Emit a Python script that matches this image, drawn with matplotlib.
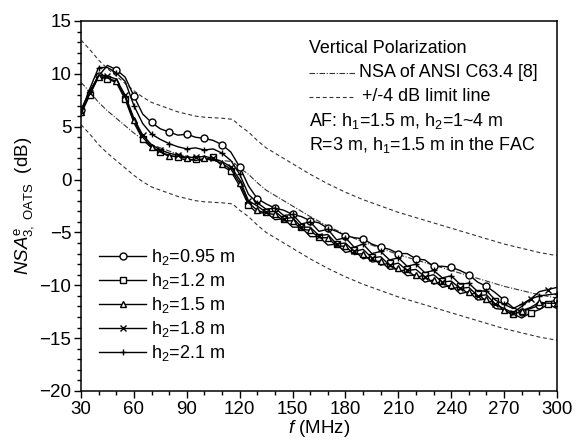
import matplotlib
matplotlib.use('Agg')
import matplotlib.pyplot as plt
from matplotlib.lines import Line2D
from matplotlib.ticker import MultipleLocator

plt.rcParams['font.family'] = ['Liberation Sans', 'DejaVu Sans']
plt.rcParams['mathtext.fontset'] = 'custom'
plt.rcParams['mathtext.rm'] = 'Liberation Sans'
plt.rcParams['mathtext.it'] = 'Liberation Sans:italic'

# measured frequencies (MHz)
freq = list(range(30, 301, 5))

# NSA^e_3,OATS (dB) per receive antenna height h2
h095 = [6.6, 8.4, 9.8, 10.8, 10.4, 9.7, 7.9, 6.2, 5.4, 4.8, 4.5, 4.2, 4.3, 4.0,
        3.9, 3.7, 3.3, 2.6, 1.2,
        -0.6, -1.8, -2.3, -2.7, -2.9, -3.3, -3.5, -3.9, -4.1, -4.6, -4.9, -5.3,
        -5.5, -5.6, -6.1, -6.4, -6.6, -7.0, -7.0, -7.5, -7.6, -8.2, -8.2, -8.3,
        -8.6, -9.0, -9.7, -10.1, -10.7, -11.4, -12.1, -12.5, -12.2, -11.9,
        -11.6, -11.4]
h12 = [6.2, 8.0, 9.8, 9.5, 9.2, 7.6, 5.4, 3.8, 3.0, 2.6, 2.3, 2.1, 1.8, 1.9,
       1.8, 2.1, 1.3, 0.8, -0.6,
       -2.4, -3.2, -3.1, -3.8, -3.7, -4.5, -4.5, -5.4, -5.4, -6.2, -6.1, -6.9,
       -6.7, -7.5, -7.3, -8.1, -7.9, -8.7, -8.5, -9.3, -9.0, -9.9, -9.6, -10.4,
       -10.1, -10.9, -10.7, -11.6, -11.5, -12.5, -12.7, -13.1, -12.6, -12.3,
       -11.8, -12.2]
h15 = [6.4, 8.1, 9.7, 9.6, 9.3, 7.8, 5.6, 4.0, 3.1, 2.6, 2.2, 2.2, 2.0, 1.8,
       2.0, 1.9, 1.5, 1.0, -0.3,
       -2.2, -2.9, -3.2, -3.3, -3.9, -3.9, -4.7, -4.8, -5.5, -5.5, -6.3, -6.3,
       -7.1, -7.0, -7.8, -7.7, -8.5, -8.4, -9.1, -9.0, -9.7, -9.5, -10.2, -10.0,
       -10.8, -10.6, -11.4, -11.3, -12.2, -12.3, -12.8, -12.4, -12.1, -11.6,
       -11.7, -11.7]
h18 = [6.5, 8.2, 9.9, 9.8, 9.5, 8.0, 5.8, 4.2, 3.3, 2.8, 2.5, 2.3, 2.1, 2.1,
       2.2, 2.0, 1.7, 1.2, 0.0,
       -2.0, -2.5, -3.1, -3.0, -3.7, -3.6, -4.5, -4.5, -5.3, -5.2, -6.1, -6.0,
       -6.8, -6.6, -7.4, -7.3, -8.1, -7.9, -8.6, -8.5, -9.2, -9.0, -9.7, -9.6,
       -10.3, -10.2, -11.0, -10.9, -11.8, -12.2, -12.6, -12.0, -11.3, -10.6,
       -10.4, -10.2]
h21 = [6.3, 8.6, 10.6, 10.6, 10.1, 9.3, 7.0, 5.3, 4.3, 3.8, 3.4, 3.1, 2.9, 3.0,
       2.8, 2.9, 2.5, 1.8, 0.5,
       -1.4, -2.2, -2.8, -2.7, -3.4, -3.3, -4.2, -4.0, -4.9, -4.7, -5.7, -5.5,
       -6.4, -6.1, -7.0, -6.8, -7.6, -7.4, -8.2, -8.0, -8.8, -8.6, -9.3, -9.1,
       -9.9, -9.8, -10.6, -10.5, -11.4, -11.8, -12.2, -11.8, -11.3, -11.0,
       -10.9, -10.8]

# NSA of ANSI C63.4 and the +/-4 dB acceptance window
nsa_freq = [30, 35, 40, 45, 50, 55, 60, 65, 70, 75, 80, 85, 90, 95, 100, 105,
            110, 116, 120, 125, 130, 135, 140, 145, 150, 160, 170, 180, 190,
            200, 210, 220, 230, 240, 250, 260, 270, 280, 290, 300]
nsa = [9.2, 8.3, 7.3, 6.5, 5.8, 5.1, 4.4, 3.8, 3.3, 3.0, 2.7, 2.4, 2.2, 2.0,
       1.9, 1.85, 1.8, 1.7, 1.1, 0.5, -0.3, -1.0, -1.5, -2.0, -2.5, -3.5, -4.4,
       -5.2, -5.9, -6.5, -7.1, -7.6, -8.1, -8.6, -9.1, -9.6, -10.1, -10.5,
       -10.9, -11.2]
limit_db = 4.0

series = [
    ('h$_2$=0.95 m', h095, 'o'),
    ('h$_2$=1.2 m', h12, 's'),
    ('h$_2$=1.5 m', h15, '^'),
    ('h$_2$=1.8 m', h18, 'x'),
    ('h$_2$=2.1 m', h21, '+'),
]

fig = plt.figure(figsize=(5.76, 4.43), dpi=100)
ax = fig.add_axes([0.1406, 0.1174, 0.8264, 0.8352])

dashdot = (0, (5, 1.5, 1, 1.5))
dashed = (0, (3.5, 2.5))
ax.plot(nsa_freq, nsa, color='#333333', lw=0.8, ls=dashdot)
ax.plot(nsa_freq, [v + limit_db for v in nsa], color='#333333', lw=0.8, ls=dashed)
ax.plot(nsa_freq, [v - limit_db for v in nsa], color='#333333', lw=0.8, ls=dashed)

for i, (label, vals, mk) in enumerate(series):
    ax.plot(freq, vals, color='black', lw=1.0, marker=mk, markersize=5,
            markerfacecolor='white', markeredgecolor='black', markeredgewidth=1.0,
            markevery=(i % 2, 2), label=label)

ax.set_xlim(30, 300)
ax.set_ylim(-20, 15)
ax.xaxis.set_major_locator(MultipleLocator(30))
ax.xaxis.set_minor_locator(MultipleLocator(10))
ax.yaxis.set_major_locator(MultipleLocator(5))
ax.yaxis.set_minor_locator(MultipleLocator(1))
ax.tick_params(which='both', direction='out', top=False, right=False,
               labelsize=13.5, width=1, pad=2)
ax.tick_params(which='major', length=5)
ax.tick_params(which='minor', length=3)
for sp in ax.spines.values():
    sp.set_linewidth(1.1)

ax.set_xlabel('$f$ (MHz)', fontsize=13.5, labelpad=0)
ax.set_ylabel(r'$\mathit{NSA}^{\mathrm{e}}_{\mathrm{3,\ OATS}}$  (dB)',
              fontsize=13.5, labelpad=2)

ax.legend(loc='lower left', bbox_to_anchor=(0.0, 0.027), frameon=False,
          fontsize=13, handlelength=2.6, handletextpad=0.3, labelspacing=0.22,
          borderaxespad=0.6)

# annotation block in the upper right
tx = 0.478
fs = 12.9
rows = [0.925, 0.860, 0.795, 0.730, 0.665]
ax.text(tx, rows[0], 'Vertical Polarization', transform=ax.transAxes,
        fontsize=fs, va='center')
ax.add_line(Line2D([tx, tx + 0.098], [rows[1], rows[1]], transform=ax.transAxes,
                   color='#333333', lw=0.8, ls=dashdot))
ax.text(tx + 0.107, rows[1], 'NSA of ANSI C63.4 [8]', transform=ax.transAxes,
        fontsize=fs, va='center')
ax.add_line(Line2D([tx, tx + 0.098], [rows[2], rows[2]], transform=ax.transAxes,
                   color='#333333', lw=0.8, ls=dashed))
ax.text(tx + 0.112, rows[2], '+/-4 dB limit line', transform=ax.transAxes,
        fontsize=fs, va='center')
ax.text(tx, rows[3], 'AF: h$_1$=1.5 m, h$_2$=1~4 m', transform=ax.transAxes,
        fontsize=fs, va='center')
ax.text(tx, rows[4], 'R=3 m, h$_1$=1.5 m in the FAC', transform=ax.transAxes,
        fontsize=fs, va='center')

fig.savefig('out.png', dpi=100)
